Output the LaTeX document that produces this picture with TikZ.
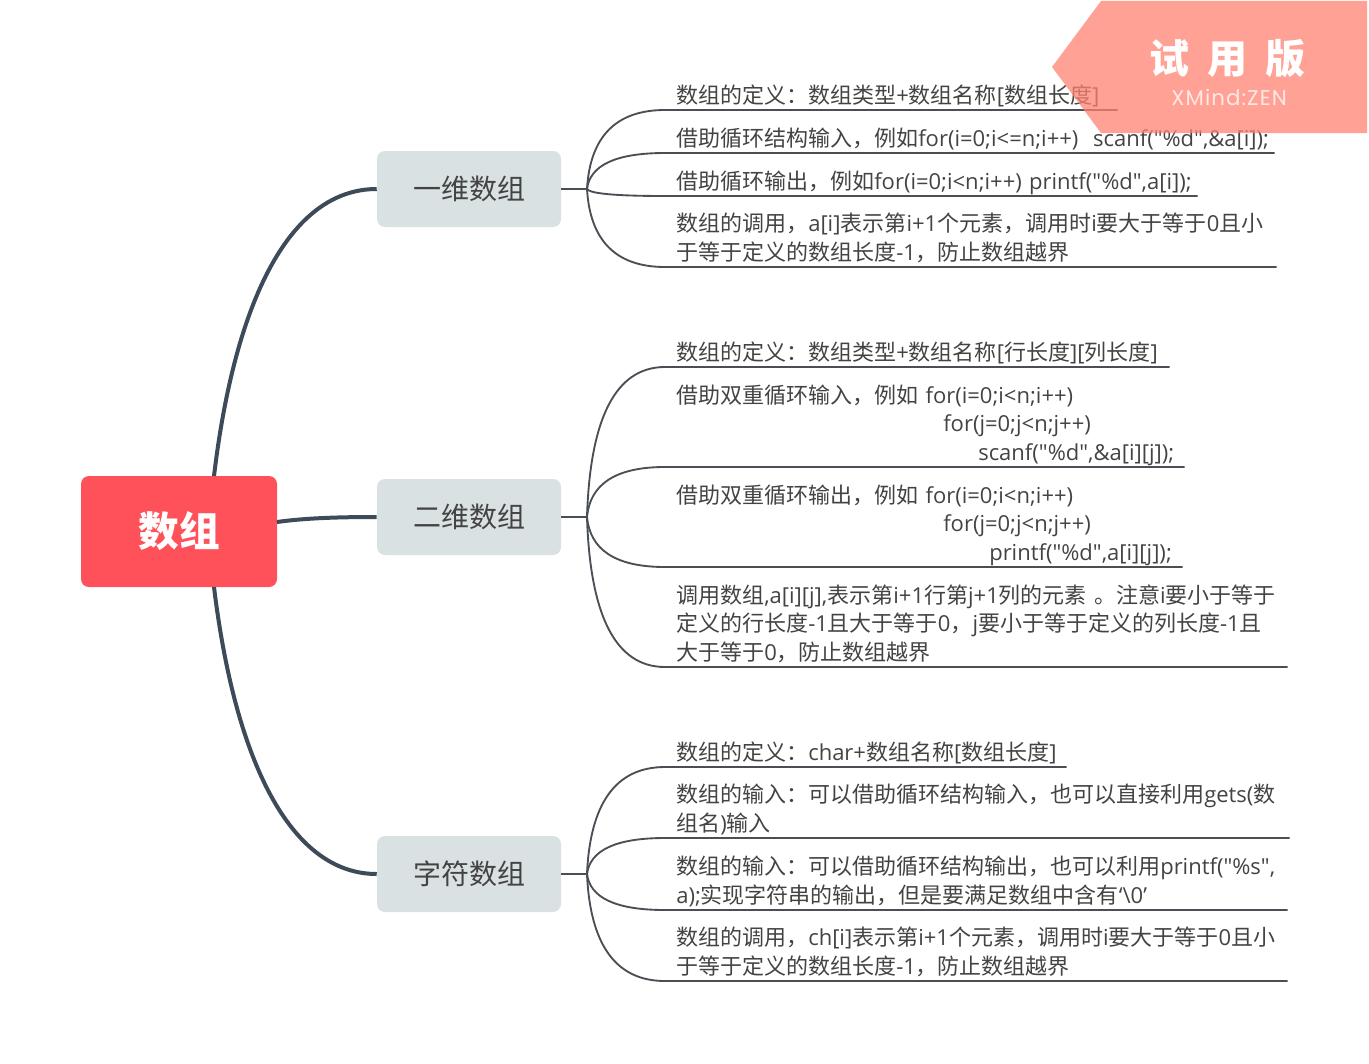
\documentclass[tikz,border=0pt]{standalone}
\usepackage{fontspec}
\setmainfont{Open Sans}
\newfontfamily\latinf[Scale=1.0]{Open Sans}
\newfontfamily\wmf[LetterSpace=5]{Poppins}
\newfontfamily\cjkf{Noto Sans CJK SC}
\newcount\cjkcnt
\cjkcnt="3000
\loop\ifnum\cjkcnt<"A000 \XeTeXcharclass\cjkcnt=200 \advance\cjkcnt by 1 \repeat
\cjkcnt="FF00
\loop\ifnum\cjkcnt<"FFF0 \XeTeXcharclass\cjkcnt=200 \advance\cjkcnt by 1 \repeat
\XeTeXinterchartoks 0 200={\cjkf}
\XeTeXinterchartoks 200 0={\latinf}
\XeTeXinterchartoks 4095 200={\cjkf}
\XeTeXinterchartoks 200 4095={\latinf}
\XeTeXinterchartokenstate=1
\newlength\px \px=0.75pt
\definecolor{mainred}{HTML}{FF5159}
\definecolor{branchfill}{HTML}{DAE1E3}
\definecolor{ink}{HTML}{434343}
\definecolor{trunk}{HTML}{3D4A5A}
\definecolor{twig}{HTML}{4A4F55}
\definecolor{wm}{HTML}{FF8270}
\newcommand{\lf}[5]{% name, hub, y, x2, text
  \pgfmathsetmacro{\lfw}{#4-665}
  \node[leafbox,minimum width=\lfw*\px,text width=\lfw*\px-22\px] (#1) at (665,#3) {\lnstrut#5\lfstrut};
  \draw[twigline] (#2) .. controls ($(#2)!0.65!(#2|-#1.south west)+(3,0)$) and ($(#1.south west)+(-50,0)$) .. (#1.south west) -- (#1.south east);
}
\newcommand{\lfstrut}{\rule[-6.5\px]{0pt}{6.5\px}}
\newcommand{\lnstrut}{\rule{0pt}{20\px}}
\usetikzlibrary{calc}
\tikzset{
  x=0.75pt,y=-0.75pt,
  mainbox/.style={fill=mainred,rounded corners=6pt,text=white,font=\fontsize{30.5pt}{34pt}\selectfont\bfseries\latinf,minimum width=196\px,minimum height=111\px,inner sep=0pt},
  branchbox/.style={fill=branchfill,rounded corners=6pt,text=ink,font=\fontsize{21pt}{26pt}\selectfont\latinf,minimum width=184\px,minimum height=76\px,inner sep=0pt},
  leafbox/.style={anchor=south west,inner xsep=11\px,inner ysep=0pt,align=left,text=ink,font=\fontsize{16.5pt}{21.2pt}\selectfont\latinf},
  trunkline/.style={draw=trunk,line width=3pt},
  twigline/.style={draw=twig,line width=1.4pt},
}
\begin{document}
\begin{tikzpicture}
\useasboundingbox (0,0) rectangle (1369,1063);
\node[mainbox] (main) at (179,531.5) {数组};
\node[branchbox] (b1) at (469,189) {一维数组};
\node[branchbox] (b2) at (469,517) {二维数组};
\node[branchbox] (b3) at (469,874) {字符数组};
\coordinate (m1) at (214,476);
\coordinate (m2) at (277,522);
\coordinate (m3) at (214,587);
\draw[trunkline] (m1) .. controls (235,300) and (290,189) .. (b1.west);
\draw[trunkline] (m2) .. controls (305,518) and (340,517) .. (b2.west);
\draw[trunkline] (m3) .. controls (235,760) and (290,874) .. (b3.west);
\coordinate (h1) at (587,189);
\coordinate (h2) at (587,517);
\coordinate (h3) at (587,874);
\draw[twigline,line width=2pt] (b1.east) -- (h1);
\draw[twigline,line width=2pt] (b2.east) -- (h2);
\draw[twigline,line width=2pt] (b3.east) -- (h3);
\lf{a1}{h1}{110}{1117}{\mbox{数组的定义：数组类型+数组名称[数组长度]}}
\lf{a2}{h1}{153}{1274}{\mbox{借助循环结构输入，例如for(i=0;i<=n;i++)\ \ scanf("\%d",\&a[i]);}}
\lf{a3}{h1}{196}{1197}{\mbox{借助循环输出，例如for(i=0;i<n;i++) printf("\%d",a[i]);}}
\lf{a4}{h1}{267}{1276}{\mbox{数组的调用，a[i]表示第i+1个元素，调用时i要大于等于0且小}\\\mbox{于等于定义的数组长度-1，防止数组越界}}
\lf{c1}{h2}{367}{1169}{\mbox{数组的定义：数组类型+数组名称[行长度][列长度]}}
\lf{c2}{h2}{467}{1184}{\mbox{借助双重循环输入，例如 for(i=0;i<n;i++)}\\\hspace*{267\px}\mbox{for(j=0;j<n;j++)}\\\hspace*{302\px}\mbox{scanf("\%d",\&a[i][j]);}}
\lf{c3}{h2}{567}{1182}{\mbox{借助双重循环输出，例如 for(i=0;i<n;i++)}\\\hspace*{267\px}\mbox{for(j=0;j<n;j++)}\\\hspace*{313\px}\mbox{printf("\%d",a[i][j]);}}
\lf{c4}{h2}{667}{1287}{\mbox{调用数组,a[i][j],表示第i+1行第j+1列的元素 。注意i要小于等于}\\\mbox{定义的行长度-1且大于等于0，j要小于等于定义的列长度-1且}\\\mbox{大于等于0，防止数组越界}}
\lf{d1}{h3}{767}{1066}{\mbox{数组的定义：char+数组名称[数组长度]}}
\lf{d2}{h3}{838}{1289}{\mbox{数组的输入：可以借助循环结构输入，也可以直接利用gets(数}\\\mbox{组名)输入}}
\lf{d3}{h3}{910}{1287}{\mbox{数组的输入：可以借助循环结构输出，也可以利用printf("\%s",}\\\mbox{a);实现字符串的输出，但是要满足数组中含有‘\textbackslash 0’}}
\lf{d4}{h3}{981}{1287}{\mbox{数组的调用，ch[i]表示第i+1个元素，调用时i要大于等于0且小}\\\mbox{于等于定义的数组长度-1，防止数组越界}}
\fill[wm,fill opacity=0.75] (1101,1) -- (1367,1) -- (1367,133) -- (1101,133) -- (1052,67) -- cycle;
\node[text=white,font=\fontsize{30pt}{34pt}\selectfont\bfseries\latinf,inner sep=0pt] (wm1) at (1227,59) {试\hspace{18\px}用\hspace{18\px}版};
\node[text=white,text opacity=0.75,font=\fontsize{16pt}{18pt}\selectfont\wmf,inner sep=0pt] (wm2) at (1229,97) {\XeTeXinterchartokenstate=0 XMind:ZEN};
\end{tikzpicture}
\end{document}
